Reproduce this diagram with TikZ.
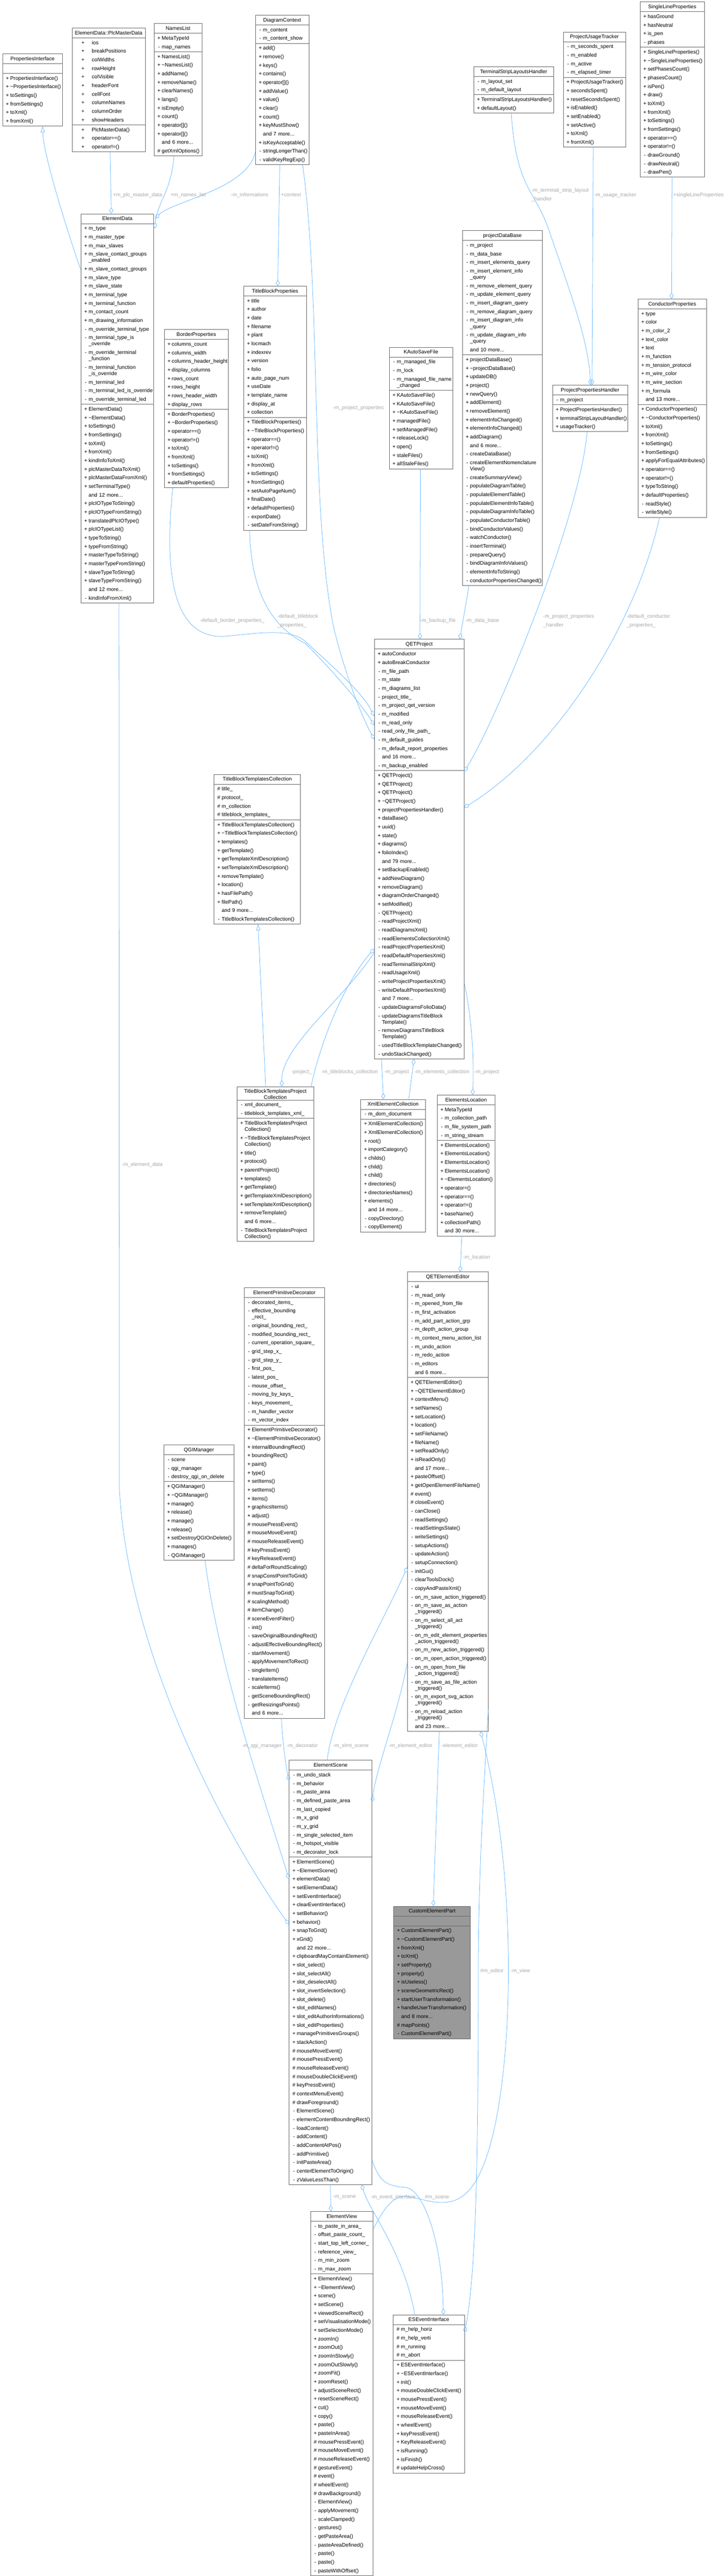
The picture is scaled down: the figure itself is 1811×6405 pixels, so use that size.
\documentclass[tikz,border=0pt]{standalone}
\usepackage{fontspec}
\setmainfont{Liberation Sans}
\usetikzlibrary{shapes.multipart,arrows.meta}

\definecolor{edgeblue}{HTML}{63B8FF}
\definecolor{lblgray}{HTML}{A8A8A8}
\definecolor{boxgray}{HTML}{666666}
\definecolor{partgray}{HTML}{999999}

\newcommand{\boxfont}{\fontsize{6.5}{10.675}\selectfont}
\newcommand{\vpub}{\makebox[7pt]{+}}
\newcommand{\vpriv}{\makebox[7pt]{-}}
\newcommand{\vprot}{\makebox[7pt]{\#}}
\newcommand{\vnone}{\makebox[7pt]{}}
\newcommand{\wpub}{\makebox[22pt]{+}}
\newcommand{\cont}{\\[-2.925pt]\vnone}
\newcommand{\tild}{\textasciitilde}
\newcommand{\hd}[1]{\strut\makebox[\linewidth]{#1}}
\newcommand{\cellrows}[1]{\strut#1\strut}

\begin{document}
\catcode`\_=12
\hyphenpenalty=10000
\exhyphenpenalty=10000
\begin{tikzpicture}[
x=0.5pt, y=-0.5pt,
classbox/.style={rectangle split, rectangle split parts=3, draw=boxgray, line width=0.5pt, fill=white, anchor=north west, align=left, inner xsep=2.5pt, inner ysep=0.5pt, font=\boxfont},
memberedge/.style={draw=edgeblue, line width=0.5pt, -{Diamond[open, length=7.5pt, width=5pt]}},
baseedge/.style={draw=edgeblue, line width=0.5pt, -{Triangle[open, length=7.5pt, width=5pt]}},
lbl/.style={text=lblgray, font=\boxfont, inner sep=0pt, anchor=west, align=left},
]
\path[use as bounding box, fill=white] (0,0) rectangle (1811,6405);

%Nodes
\node[classbox, text width=69.5pt] (pi) at (6,133) {\hd{PropertiesInterface}\nodepart{second}\cellrows{}\nodepart{third}\cellrows{\vpub PropertiesInterface()\\ \vpub \tild PropertiesInterface()\\ \vpub toSettings()\\ \vpub fromSettings()\\ \vpub toXml()\\ \vpub fromXml()}};

\node[classbox, text width=86pt] (pmd) at (179,69) {\hd{ElementData::PlcMasterData}\nodepart{second}\cellrows{\wpub ios\\ \wpub breakPositions\\ \wpub colWidths\\ \wpub rowHeight\\ \wpub colVisible\\ \wpub headerFont\\ \wpub cellFont\\ \wpub columnNames\\ \wpub columnOrder\\ \wpub showHeaders}\nodepart{third}\cellrows{\wpub PlcMasterData()\\ \wpub operator==()\\ \wpub operator!=()}};

\node[classbox, text width=54.5pt] (nl) at (383,58) {\hd{NamesList}\nodepart{second}\cellrows{\vpub MetaTypeId\\ \vpriv map_names}\nodepart{third}\cellrows{\vpub NamesList()\\ \vpub \tild NamesList()\\ \vpub addName()\\ \vpub removeName()\\ \vpub clearNames()\\ \vpub langs()\\ \vpub isEmpty()\\ \vpub count()\\ \vpub operator[]()\\ \vpub operator[]()\\ \vnone and 6 more...\\ \vprot getXmlOptions()}};

\node[classbox, text width=61.5pt] (dc) at (635,37) {\hd{DiagramContext}\nodepart{second}\cellrows{\vpriv m_content\\ \vpriv m_content_show}\nodepart{third}\cellrows{\vpub add()\\ \vpub remove()\\ \vpub keys()\\ \vpub contains()\\ \vpub operator[]()\\ \vpub addValue()\\ \vpub value()\\ \vpub clear()\\ \vpub count()\\ \vpub keyMustShow()\\ \vnone and 7 more...\\ \vpub isKeyAcceptable()\\ \vpriv stringLongerThan()\\ \vpriv validKeyRegExp()}};

\node[classbox, text width=94.5pt] (tslh) at (1178,165) {\hd{TerminalStripLayoutsHandler}\nodepart{second}\cellrows{\vpriv m_layout_set\\ \vpriv m_default_layout}\nodepart{third}\cellrows{\vpub TerminalStripLayoutsHandler()\\ \vpub defaultLayout()}};

\node[classbox, text width=72.5pt] (put) at (1401,79) {\hd{ProjectUsageTracker}\nodepart{second}\cellrows{\vpriv m_seconds_spent\\ \vpriv m_enabled\\ \vpriv m_active\\ \vpriv m_elapsed_timer}\nodepart{third}\cellrows{\vpub ProjectUsageTracker()\\ \vpub secondsSpent()\\ \vpub resetSecondsSpent()\\ \vpub isEnabled()\\ \vpub setEnabled()\\ \vpub setActive()\\ \vpub toXml()\\ \vpub fromXml()}};

\node[classbox, text width=75pt] (slp) at (1592,4) {\hd{SingleLineProperties}\nodepart{second}\cellrows{\vpub hasGround\\ \vpub hasNeutral\\ \vpub is_pen\\ \vpriv phases}\nodepart{third}\cellrows{\vpub SingleLineProperties()\\ \vpub \tild SingleLineProperties()\\ \vpub setPhasesCount()\\ \vpub phasesCount()\\ \vpub isPen()\\ \vpub draw()\\ \vpub toXml()\\ \vpub fromXml()\\ \vpub toSettings()\\ \vpub fromSettings()\\ \vpub operator==()\\ \vpub operator!=()\\ \vpriv drawGround()\\ \vpriv drawNeutral()\\ \vpriv drawPen()}};

\node[classbox, text width=85.5pt] (ed) at (201,531) {\hd{ElementData}\nodepart{second}\cellrows{\vpub m_type\\ \vpub m_master_type\\ \vpub m_max_slaves\\ \vpub m_slave_contact_groups\cont _enabled\\ \vpub m_slave_contact_groups\\ \vpub m_slave_type\\ \vpub m_slave_state\\ \vpub m_terminal_type\\ \vpub m_terminal_function\\ \vpub m_contact_count\\ \vpub m_drawing_information\\ \vpriv m_override_terminal_type\\ \vpriv m_terminal_type_is\cont _override\\ \vpriv m_override_terminal\cont _function\\ \vpriv m_terminal_function\cont _is_override\\ \vpriv m_terminal_led\\ \vpriv m_terminal_led_is_override\\ \vpriv m_override_terminal_led}\nodepart{third}\cellrows{\vpub ElementData()\\ \vpub \tild ElementData()\\ \vpub toSettings()\\ \vpub fromSettings()\\ \vpub toXml()\\ \vpub fromXml()\\ \vpub kindInfoToXml()\\ \vpub plcMasterDataToXml()\\ \vpub plcMasterDataFromXml()\\ \vpub setTerminalType()\\ \vnone and 12 more...\\ \vpub plcIOTypeToString()\\ \vpub plcIOTypeFromString()\\ \vpub translatedPlcIOType()\\ \vpub plcIOTypeList()\\ \vpub typeToString()\\ \vpub typeFromString()\\ \vpub masterTypeToString()\\ \vpub masterTypeFromString()\\ \vpub slaveTypeToString()\\ \vpub slaveTypeFromString()\\ \vnone and 12 more...\\ \vpriv kindInfoFromXml()}};

\node[classbox, text width=75pt] (bp) at (408,819) {\hd{BorderProperties}\nodepart{second}\cellrows{\vpub columns_count\\ \vpub columns_width\\ \vpub columns_header_height\\ \vpub display_columns\\ \vpub rows_count\\ \vpub rows_height\\ \vpub rows_header_width\\ \vpub display_rows}\nodepart{third}\cellrows{\vpub BorderProperties()\\ \vpub \tild BorderProperties()\\ \vpub operator==()\\ \vpub operator!=()\\ \vpub toXml()\\ \vpub fromXml()\\ \vpub toSettings()\\ \vpub fromSettings()\\ \vpub defaultProperties()}};

\node[classbox, text width=73pt] (tbp) at (606,711) {\hd{TitleBlockProperties}\nodepart{second}\cellrows{\vpub title\\ \vpub author\\ \vpub date\\ \vpub filename\\ \vpub plant\\ \vpub locmach\\ \vpub indexrev\\ \vpub version\\ \vpub folio\\ \vpub auto_page_num\\ \vpub useDate\\ \vpub template_name\\ \vpub display_at\\ \vpub collection}\nodepart{third}\cellrows{\vpub TitleBlockProperties()\\ \vpub \tild TitleBlockProperties()\\ \vpub operator==()\\ \vpub operator!=()\\ \vpub toXml()\\ \vpub fromXml()\\ \vpub toSettings()\\ \vpub fromSettings()\\ \vpub setAutoPageNum()\\ \vpub finalDate()\\ \vpub defaultProperties()\\ \vpriv exportDate()\\ \vpriv setDateFromString()}};

\node[classbox, text width=74pt] (kasf) at (968,863) {\hd{KAutoSaveFile}\nodepart{second}\cellrows{\vpriv m_managed_file\\ \vpriv m_lock\\ \vpriv m_managed_file_name\cont _changed}\nodepart{third}\cellrows{\vpub KAutoSaveFile()\\ \vpub KAutoSaveFile()\\ \vpub \tild KAutoSaveFile()\\ \vpub managedFile()\\ \vpub setManagedFile()\\ \vpub releaseLock()\\ \vpub open()\\ \vpub staleFiles()\\ \vpub allStaleFiles()}};

\node[classbox, text width=94.5pt] (pdb) at (1150,573) {\hd{projectDataBase}\nodepart{second}\cellrows{\vpriv m_project\\ \vpriv m_data_base\\ \vpriv m_insert_elements_query\\ \vpriv m_insert_element_info\cont _query\\ \vpriv m_remove_element_query\\ \vpriv m_update_element_query\\ \vpriv m_insert_diagram_query\\ \vpriv m_remove_diagram_query\\ \vpriv m_insert_diagram_info\cont _query\\ \vpriv m_update_diagram_info\cont _query\\ \vnone and 10 more...}\nodepart{third}\cellrows{\vpub projectDataBase()\\ \vpub \tild projectDataBase()\\ \vpub updateDB()\\ \vpub project()\\ \vpub newQuery()\\ \vpub addElement()\\ \vpub removeElement()\\ \vpub elementInfoChanged()\\ \vpub elementInfoChanged()\\ \vpub addDiagram()\\ \vnone and 6 more...\\ \vpriv createDataBase()\\ \vpriv createElementNomenclature\cont View()\\ \vpriv createSummaryView()\\ \vpriv populateDiagramTable()\\ \vpriv populateElementTable()\\ \vpriv populateElementInfoTable()\\ \vpriv populateDiagramInfoTable()\\ \vpriv populateConductorTable()\\ \vpriv bindConductorValues()\\ \vpriv watchConductor()\\ \vpriv insertTerminal()\\ \vpriv prepareQuery()\\ \vpriv bindDiagramInfoValues()\\ \vpriv elementInfoToString()\\ \vpriv conductorPropertiesChanged()}};

\node[classbox, text width=88.5pt] (pph) at (1374,957) {\hd{ProjectPropertiesHandler}\nodepart{second}\cellrows{\vpriv m_project}\nodepart{third}\cellrows{\vpub ProjectPropertiesHandler()\\ \vpub terminalStripLayoutHandler()\\ \vpub usageTracker()}};

\node[classbox, text width=80pt] (cp) at (1587,743) {\hd{ConductorProperties}\nodepart{second}\cellrows{\vpub type\\ \vpub color\\ \vpub m_color_2\\ \vpub text_color\\ \vpub text\\ \vpub m_function\\ \vpub m_tension_protocol\\ \vpub m_wire_color\\ \vpub m_wire_section\\ \vpub m_formula\\ \vnone and 13 more...}\nodepart{third}\cellrows{\vpub ConductorProperties()\\ \vpub \tild ConductorProperties()\\ \vpub toXml()\\ \vpub fromXml()\\ \vpub toSettings()\\ \vpub fromSettings()\\ \vpub applyForEqualAttributes()\\ \vpub operator==()\\ \vpub operator!=()\\ \vpub typeToString()\\ \vpub defaultProperties()\\ \vpriv readStyle()\\ \vpriv writeStyle()}};

\node[classbox, text width=106.5pt] (qp) at (931,1589) {\hd{QETProject}\nodepart{second}\cellrows{\vpub autoConductor\\ \vpub autoBreakConductor\\ \vpriv m_file_path\\ \vpriv m_state\\ \vpriv m_diagrams_list\\ \vpriv project_title_\\ \vpriv m_project_qet_version\\ \vpriv m_modified\\ \vpriv m_read_only\\ \vpriv read_only_file_path_\\ \vpriv m_default_guides\\ \vpriv m_default_report_properties\\ \vnone and 16 more...\\ \vpriv m_backup_enabled}\nodepart{third}\cellrows{\vpub QETProject()\\ \vpub QETProject()\\ \vpub QETProject()\\ \vpub \tild QETProject()\\ \vpub projectPropertiesHandler()\\ \vpub dataBase()\\ \vpub uuid()\\ \vpub state()\\ \vpub diagrams()\\ \vpub folioIndex()\\ \vnone and 79 more...\\ \vpub setBackupEnabled()\\ \vpub addNewDiagram()\\ \vpub removeDiagram()\\ \vpub diagramOrderChanged()\\ \vpub setModified()\\ \vpriv QETProject()\\ \vpriv readProjectXml()\\ \vpriv readDiagramsXml()\\ \vpriv readElementsCollectionXml()\\ \vpriv readProjectPropertiesXml()\\ \vpriv readDefaultPropertiesXml()\\ \vpriv readTerminalStripXml()\\ \vpriv readUsageXml()\\ \vpriv writeProjectPropertiesXml()\\ \vpriv writeDefaultPropertiesXml()\\ \vnone and 7 more...\\ \vpriv updateDiagramsFolioData()\\ \vpriv updateDiagramsTitleBlock\cont Template()\\ \vpriv removeDiagramsTitleBlock\cont Template()\\ \vpriv usedTitleBlockTemplateChanged()\\ \vpriv undoStackChanged()}};

\node[classbox, text width=102.5pt] (tbtc) at (532,1925) {\hd{TitleBlockTemplatesCollection}\nodepart{second}\cellrows{\vprot title_\\ \vprot protocol_\\ \vprot m_collection\\ \vprot titleblock_templates_}\nodepart{third}\cellrows{\vpub TitleBlockTemplatesCollection()\\ \vpub \tild TitleBlockTemplatesCollection()\\ \vpub templates()\\ \vpub getTemplate()\\ \vpub getTemplateXmlDescription()\\ \vpub setTemplateXmlDescription()\\ \vpub removeTemplate()\\ \vpub location()\\ \vpub hasFilePath()\\ \vpub filePath()\\ \vnone and 9 more...\\ \vpriv TitleBlockTemplatesCollection()}};

\node[classbox, text width=90.5pt] (tbtpc) at (589,2701) {\hd{TitleBlockTemplatesProject}\\[-2.925pt]\makebox[\linewidth]{Collection}\nodepart{second}\cellrows{\vpriv xml_document_\\ \vpriv titleblock_templates_xml_}\nodepart{third}\cellrows{\vpub TitleBlockTemplatesProject\cont Collection()\\ \vpub \tild TitleBlockTemplatesProject\cont Collection()\\ \vpub title()\\ \vpub protocol()\\ \vpub parentProject()\\ \vpub templates()\\ \vpub getTemplate()\\ \vpub getTemplateXmlDescription()\\ \vpub setTemplateXmlDescription()\\ \vpub removeTemplate()\\ \vnone and 6 more...\\ \vpriv TitleBlockTemplatesProject\cont Collection()}};

\node[classbox, text width=75.5pt] (xec) at (897,2733) {\hd{XmlElementCollection}\nodepart{second}\cellrows{\vpriv m_dom_document}\nodepart{third}\cellrows{\vpub XmlElementCollection()\\ \vpub XmlElementCollection()\\ \vpub root()\\ \vpub importCategory()\\ \vpub childs()\\ \vpub child()\\ \vpub child()\\ \vpub directories()\\ \vpub directoriesNames()\\ \vpub elements()\\ \vnone and 14 more...\\ \vpriv copyDirectory()\\ \vpriv copyElement()}};

\node[classbox, text width=67pt] (el) at (1087,2722) {\hd{ElementsLocation}\nodepart{second}\cellrows{\vpub MetaTypeId\\ \vpriv m_collection_path\\ \vpriv m_file_system_path\\ \vpriv m_string_stream}\nodepart{third}\cellrows{\vpub ElementsLocation()\\ \vpub ElementsLocation()\\ \vpub ElementsLocation()\\ \vpub ElementsLocation()\\ \vpub \tild ElementsLocation()\\ \vpub operator=()\\ \vpub operator==()\\ \vpub operator!=()\\ \vpub baseName()\\ \vpub collectionPath()\\ \vnone and 30 more...}};

\node[classbox, text width=95.5pt] (qee) at (1013,3162) {\hd{QETElementEditor}\nodepart{second}\cellrows{\vpriv ui\\ \vpriv m_read_only\\ \vpriv m_opened_from_file\\ \vpriv m_first_activation\\ \vpriv m_add_part_action_grp\\ \vpriv m_depth_action_group\\ \vpriv m_context_menu_action_list\\ \vpriv m_undo_action\\ \vpriv m_redo_action\\ \vpriv m_editors\\ \vnone and 6 more...}\nodepart{third}\cellrows{\vpub QETElementEditor()\\ \vpub \tild QETElementEditor()\\ \vpub contextMenu()\\ \vpub setNames()\\ \vpub setLocation()\\ \vpub location()\\ \vpub setFileName()\\ \vpub fileName()\\ \vpub setReadOnly()\\ \vpub isReadOnly()\\ \vnone and 17 more...\\ \vpub pasteOffset()\\ \vpub getOpenElementFileName()\\ \vprot event()\\ \vprot closeEvent()\\ \vpriv canClose()\\ \vpriv readSettings()\\ \vpriv readSettingsState()\\ \vpriv writeSettings()\\ \vpriv setupActions()\\ \vpriv updateAction()\\ \vpriv setupConnection()\\ \vpriv initGui()\\ \vpriv clearToolsDock()\\ \vpriv copyAndPasteXml()\\ \vpriv on_m_save_action_triggered()\\ \vpriv on_m_save_as_action\cont _triggered()\\ \vpriv on_m_select_all_act\cont _triggered()\\ \vpriv on_m_edit_element_properties\cont _action_triggered()\\ \vpriv on_m_new_action_triggered()\\ \vpriv on_m_open_action_triggered()\\ \vpriv on_m_open_from_file\cont _action_triggered()\\ \vpriv on_m_save_as_file_action\cont _triggered()\\ \vpriv on_m_export_svg_action\cont _triggered()\\ \vpriv on_m_reload_action\cont _triggered()\\ \vnone and 23 more...}};

\node[classbox, text width=95pt] (epd) at (607,3201) {\hd{ElementPrimitiveDecorator}\nodepart{second}\cellrows{\vpriv decorated_items_\\ \vpriv effective_bounding\cont _rect_\\ \vpriv original_bounding_rect_\\ \vpriv modified_bounding_rect_\\ \vpriv current_operation_square_\\ \vpriv grid_step_x_\\ \vpriv grid_step_y_\\ \vpriv first_pos_\\ \vpriv latest_pos_\\ \vpriv mouse_offset_\\ \vpriv moving_by_keys_\\ \vpriv keys_movement_\\ \vpriv m_handler_vector\\ \vpriv m_vector_index}\nodepart{third}\cellrows{\vpub ElementPrimitiveDecorator()\\ \vpub \tild ElementPrimitiveDecorator()\\ \vpub internalBoundingRect()\\ \vpub boundingRect()\\ \vpub paint()\\ \vpub type()\\ \vpub setItems()\\ \vpub setItems()\\ \vpub items()\\ \vpub graphicsItems()\\ \vpub adjust()\\ \vprot mousePressEvent()\\ \vprot mouseMoveEvent()\\ \vprot mouseReleaseEvent()\\ \vprot keyPressEvent()\\ \vprot keyReleaseEvent()\\ \vprot deltaForRoundScaling()\\ \vprot snapConstPointToGrid()\\ \vprot snapPointToGrid()\\ \vprot mustSnapToGrid()\\ \vprot scalingMethod()\\ \vprot itemChange()\\ \vprot sceneEventFilter()\\ \vpriv init()\\ \vpriv saveOriginalBoundingRect()\\ \vpriv adjustEffectiveBoundingRect()\\ \vpriv startMovement()\\ \vpriv applyMovementToRect()\\ \vpriv singleItem()\\ \vpriv translateItems()\\ \vpriv scaleItems()\\ \vpriv getSceneBoundingRect()\\ \vpriv getResizingsPoints()\\ \vnone and 6 more...}};

\node[classbox, text width=82.5pt] (qgi) at (407,3592) {\hd{QGIManager}\nodepart{second}\cellrows{\vpriv scene\\ \vpriv qgi_manager\\ \vpriv destroy_qgi_on_delete}\nodepart{third}\cellrows{\vpub QGIManager()\\ \vpub \tild QGIManager()\\ \vpub manage()\\ \vpub release()\\ \vpub manage()\\ \vpub release()\\ \vpub setDestroyQGIOnDelete()\\ \vpub manages()\\ \vpriv QGIManager()}};

\node[classbox, text width=98pt] (es) at (719,4376) {\hd{ElementScene}\nodepart{second}\cellrows{\vpriv m_undo_stack\\ \vpriv m_behavior\\ \vpriv m_paste_area\\ \vpriv m_defined_paste_area\\ \vpriv m_last_copied\\ \vpriv m_x_grid\\ \vpriv m_y_grid\\ \vpriv m_single_selected_item\\ \vpriv m_hotspot_visible\\ \vpriv m_decorator_lock}\nodepart{third}\cellrows{\vpub ElementScene()\\ \vpub \tild ElementScene()\\ \vpub elementData()\\ \vpub setElementData()\\ \vpub setEventInterface()\\ \vpub clearEventInterface()\\ \vpub setBehavior()\\ \vpub behavior()\\ \vpub snapToGrid()\\ \vpub xGrid()\\ \vnone and 22 more...\\ \vpub clipboardMayContainElement()\\ \vpub slot_select()\\ \vpub slot_selectAll()\\ \vpub slot_deselectAll()\\ \vpub slot_invertSelection()\\ \vpub slot_delete()\\ \vpub slot_editNames()\\ \vpub slot_editAuthorInformations()\\ \vpub slot_editProperties()\\ \vpub managePrimitivesGroups()\\ \vpub stackAction()\\ \vprot mouseMoveEvent()\\ \vprot mousePressEvent()\\ \vprot mouseReleaseEvent()\\ \vprot mouseDoubleClickEvent()\\ \vprot keyPressEvent()\\ \vprot contextMenuEvent()\\ \vprot drawForeground()\\ \vpriv ElementScene()\\ \vpriv elementContentBoundingRect()\\ \vpriv loadContent()\\ \vpriv addContent()\\ \vpriv addContentAtPos()\\ \vpriv addPrimitive()\\ \vpriv initPasteArea()\\ \vpriv centerElementToOrigin()\\ \vpriv zValueLessThan()}};

\node[classbox, fill=partgray, text width=90.5pt] (cep) at (979,4739) {\hd{CustomElementPart}\nodepart{second}\cellrows{}\nodepart{third}\cellrows{\vpub CustomElementPart()\\ \vpub \tild CustomElementPart()\\ \vpub fromXml()\\ \vpub toXml()\\ \vpub setProperty()\\ \vpub property()\\ \vpub isUseless()\\ \vpub sceneGeometricRect()\\ \vpub startUserTransformation()\\ \vpub handleUserTransformation()\\ \vnone and 8 more...\\ \vprot mapPoints()\\ \vpriv CustomElementPart()}};

\node[classbox, text width=73pt] (ev) at (772,5498) {\hd{ElementView}\nodepart{second}\cellrows{\vpriv to_paste_in_area_\\ \vpriv offset_paste_count_\\ \vpriv start_top_left_corner_\\ \vpriv reference_view_\\ \vpriv m_min_zoom\\ \vpriv m_max_zoom}\nodepart{third}\cellrows{\vpub ElementView()\\ \vpub \tild ElementView()\\ \vpub scene()\\ \vpub setScene()\\ \vpub viewedSceneRect()\\ \vpub setVisualisationMode()\\ \vpub setSelectionMode()\\ \vpub zoomIn()\\ \vpub zoomOut()\\ \vpub zoomInSlowly()\\ \vpub zoomOutSlowly()\\ \vpub zoomFit()\\ \vpub zoomReset()\\ \vpub adjustSceneRect()\\ \vpub resetSceneRect()\\ \vpub cut()\\ \vpub copy()\\ \vpub paste()\\ \vpub pasteInArea()\\ \vprot mousePressEvent()\\ \vprot mouseMoveEvent()\\ \vprot mouseReleaseEvent()\\ \vprot gestureEvent()\\ \vprot event()\\ \vprot wheelEvent()\\ \vprot drawBackground()\\ \vpriv ElementView()\\ \vpriv applyMovement()\\ \vpriv scaleClamped()\\ \vpriv gestures()\\ \vpriv getPasteArea()\\ \vpriv pasteAreaDefined()\\ \vpriv paste()\\ \vpriv paste()\\ \vpriv pasteWithOffset()}};

\node[classbox, text width=83.5pt] (esei) at (978,5755) {\hd{ESEventInterface}\nodepart{second}\cellrows{\vprot m_help_horiz\\ \vprot m_help_verti\\ \vprot m_running\\ \vprot m_abort}\nodepart{third}\cellrows{\vpub ESEventInterface()\\ \vpub \tild ESEventInterface()\\ \vpub init()\\ \vpub mouseDoubleClickEvent()\\ \vpub mousePressEvent()\\ \vpub mouseMoveEvent()\\ \vpub mouseReleaseEvent()\\ \vpub wheelEvent()\\ \vpub keyPressEvent()\\ \vpub KeyReleaseEvent()\\ \vpub isRunning()\\ \vpub isFinish()\\ \vprot updateHelpCross()}};

%Lines
\draw[baseedge] ([shift={(0,140)}]ed.north west) .. controls (176,600) and (108,390) .. ([shift={(100,0)}]pi.south west);
\draw[memberedge] ([shift={(95,0)}]pmd.south west) -- ([shift={(76,0)}]ed.north west);
\draw[memberedge] ([shift={(50,0)}]nl.south west) .. controls (425,480) and (392,500) .. ([shift={(2,37)}]ed.north east);
\draw[memberedge] ([shift={(0,-31)}]dc.south west) .. controls (615,470) and (430,500) .. ([shift={(3,12)}]ed.north east);
\draw[memberedge] ([shift={(61,0)}]dc.south west) -- ([shift={(85,0)}]tbp.north west);
\draw[memberedge] ([shift={(-16,0)}]dc.south east) .. controls (800,750) and (770,1250) .. (830,1560) .. controls (865,1700) and (905,1790) .. ([shift={(0,249)}]qp.north west);
\draw[memberedge] ([shift={(22,0)}]bp.south west) .. controls (405,1450) and (440,1590) .. (560,1582) .. controls (640,1575) and (720,1560) .. (760,1595) .. controls (830,1660) and (900,1720) .. ([shift={(0,191)}]qp.north west);
\draw[memberedge] ([shift={(15,0)}]tbp.south west) .. controls (625,1480) and (680,1560) .. (760,1600) .. controls (840,1680) and (905,1760) .. ([shift={(0,214)}]qp.north west);
\draw[memberedge] ([shift={(78,0)}]kasf.south west) -- ([shift={(114,0)}]qp.north west);
\draw[memberedge] ([shift={(17,0)}]pdb.south west) -- ([shift={(-11,0)}]qp.north east);
\draw[memberedge] ([shift={(94,0)}]tslh.south west) .. controls (1285,470) and (1330,470) .. (1365,570) .. controls (1420,730) and (1465,850) .. ([shift={(95,0)}]pph.north west);
\draw[memberedge] ([shift={(75,0)}]put.south west) -- ([shift={(99,0)}]pph.north west);
\draw[memberedge] ([shift={(80,0)}]slp.south west) -- ([shift={(84,0)}]cp.north west);
\draw[memberedge] ([shift={(87,0)}]pph.south west) .. controls (1440,1300) and (1230,1800) .. ([shift={(0,329)}]qp.north east);
\draw[memberedge] ([shift={(54,0)}]cp.south west) .. controls (1580,1560) and (1380,1870) .. ([shift={(0,419)}]qp.north east);
\draw[memberedge] ([shift={(18,0)}]qp.south west) -- ([shift={(57,0)}]xec.north west);
\draw[memberedge] ([shift={(120,0)}]xec.north west) -- ([shift={(99,0)}]qp.south west);
\draw[memberedge] ([shift={(0,855)}]qp.north east) .. controls (1172,2520) and (1180,2620) .. ([shift={(89,0)}]el.north west);
\draw[memberedge] ([shift={(0,779)}]qp.north west) .. controls (860,2480) and (700,2600) .. ([shift={(112,0)}]tbtpc.north west);
\draw[memberedge] ([shift={(185,0)}]tbtpc.north west) .. controls (800,2580) and (860,2440) .. ([shift={(0,770)}]qp.north west);
\draw[baseedge] ([shift={(72,0)}]tbtpc.north west) -- ([shift={(110,0)}]tbtc.south west);
\draw[memberedge] ([shift={(62,0)}]el.south west) -- ([shift={(132,0)}]qee.north west);
\draw[memberedge] ([shift={(95,0)}]ed.south west) -- (297,3700) .. controls (320,4150) and (600,4620) .. ([shift={(0,409)}]es.north west);
\draw[memberedge] ([shift={(103,0)}]qgi.south west) .. controls (545,4150) and (660,4480) .. ([shift={(0,296)}]es.north west);
\draw[memberedge] ([shift={(93,0)}]epd.south west) .. controls (704,4340) and (712,4395) .. ([shift={(0,52)}]es.north west);
\draw[memberedge] ([shift={(95,0)}]es.north west) .. controls (830,4240) and (960,4020) .. ([shift={(0,735)}]qee.north west);
\draw[memberedge] ([shift={(0,974)}]qee.north west) .. controls (990,4260) and (935,4400) .. ([shift={(0,104)}]es.north east);
\draw[memberedge] ([shift={(80,0)}]qee.south west) -- ([shift={(99,0)}]cep.north west);
\draw[memberedge] ([shift={(103,0)}]es.south west) -- ([shift={(51,0)}]ev.north west);
\draw[memberedge] ([shift={(54,0)}]esei.north west) .. controls (1005,5600) and (920,5500) .. ([shift={(181,0)}]es.south west);
\draw[memberedge] ([shift={(0,996)}]es.north east) .. controls (945,5425) and (960,5435) .. (1011,5439) .. controls (1050,5445) and (1100,5560) .. ([shift={(125,0)}]esei.north west);
\draw[memberedge] ([shift={(0,44)}]ev.north east) .. controls (960,5480) and (985,5455) .. (1020,5462) .. controls (1060,5470) and (1110,5490) .. (1150,5461) .. controls (1240,5400) and (1265,5100) .. (1265,4900) .. controls (1265,4600) and (1220,4400) .. ([shift={(-19,0)}]qee.south east);
\draw[memberedge] ([shift={(0,-54)}]qee.south east) .. controls (1200,4500) and (1190,4700) .. (1190,4900) .. controls (1190,5350) and (1185,5650) .. ([shift={(0,45)}]esei.north east);

%Labels
\node[lbl] (l1) at (281,485) {+m_plc_master_data};
\node[lbl] (l2) at (424,485) {+m_names_list};
\node[lbl] (l3) at (574,485) {-m_informations};
\node[lbl] (l4) at (699,485) {+context};
\node[lbl] (l5) at (1322,485) {-m_terminal_strip_layout\\_handler};
\node[lbl] (l6) at (1478,485) {-m_usage_tracker};
\node[lbl] (l7) at (1675,485) {+singleLineProperties};
\node[lbl] (l8) at (828,1014) {-m_project_properties};
\node[lbl] (l9) at (497,1544) {-default_border_properties_};
\node[lbl] (l10) at (690,1544) {-default_titleblock\\_properties_};
\node[lbl] (l11) at (1045,1544) {-m_backup_file};
\node[lbl] (l12) at (1158,1544) {-m_data_base};
\node[lbl] (l13) at (1351,1544) {-m_project_properties\\_handler};
\node[lbl] (l14) at (1559,1544) {-default_conductor\\_properties_};
\node[lbl] (l15) at (725,2666) {-project_};
\node[lbl] (l16) at (799,2666) {-m_titleblocks_collection};
\node[lbl] (l17) at (956,2666) {-m_project};
\node[lbl] (l18) at (1031,2666) {-m_elements_collection};
\node[lbl] (l19) at (1180,2666) {-m_project};
\node[lbl] (l20) at (303,2896) {-m_element_data};
\node[lbl] (l21) at (1152,3127) {-m_location};
\node[lbl] (l22) at (602,4341) {-m_qgi_manager};
\node[lbl] (l23) at (713,4341) {-m_decorator};
\node[lbl] (l24) at (828,4341) {-m_elmt_scene};
\node[lbl] (l25) at (967,4341) {-m_element_editor};
\node[lbl] (l26) at (1098,4341) {-element_editor};
\node[lbl] (l27) at (828,5463) {-m_scene};
\node[lbl] (l28) at (922,5463) {-m_event_interface};
\node[lbl] (l29) at (1057,5463) {\#m_scene};
\node[lbl] (l30) at (1195,4901) {\#m_editor};
\node[lbl] (l31) at (1270,4901) {-m_view};

\end{tikzpicture}
\end{document}
